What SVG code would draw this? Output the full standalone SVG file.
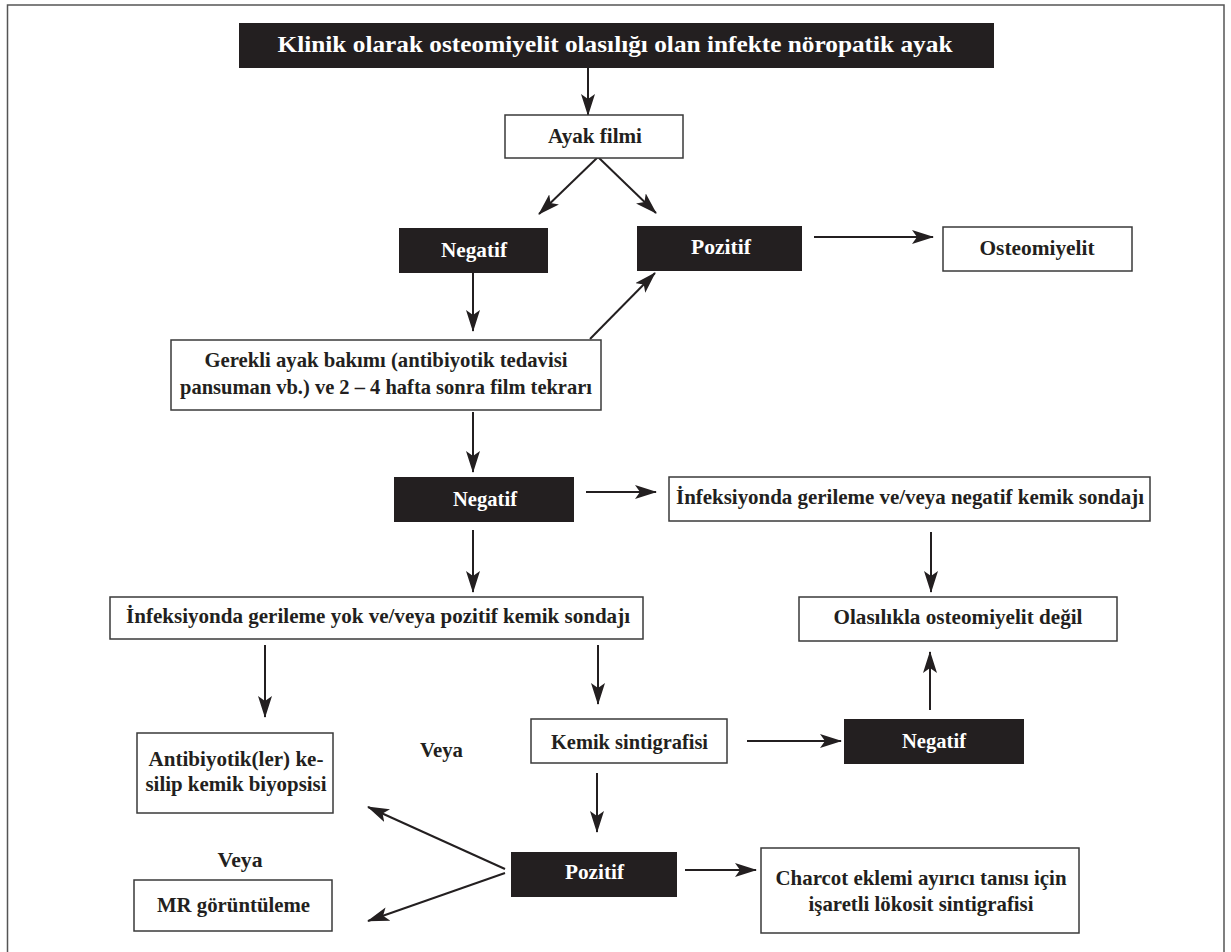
<svg xmlns="http://www.w3.org/2000/svg" width="1231" height="952" viewBox="0 0 1231 952">
<style>
  .box { fill: #ffffff; stroke: #3a3a3a; stroke-width: 1.5; }
  .dark { fill: #231f20; stroke: none; }
  .t { font-family: "Liberation Serif", "DejaVu Serif", serif; font-weight: bold; font-size: 21.5px; fill: #231f20; text-anchor: middle; }
  .w { fill: #ffffff; }
  .c { stroke: #231f20; stroke-width: 2; fill: none; marker-end: url(#ah); }
</style>
<defs>
  <marker id="ah" markerUnits="userSpaceOnUse" markerWidth="22" markerHeight="14" refX="21" refY="7" orient="auto">
    <path d="M0,0 L22,7 L0,14 L5,7 Z" fill="#231f20"/>
  </marker>
</defs>
<rect x="0" y="0" width="1231" height="952" fill="#ffffff"/>
<rect x="7.5" y="5" width="1216.5" height="960" fill="none" stroke="#555" stroke-width="1.5"/>

<g id="connectors">
  <line class="c" x1="588" y1="68" x2="588" y2="115"/>
  <line class="c" x1="598" y1="157" x2="539" y2="214"/>
  <line class="c" x1="598" y1="157" x2="656" y2="213"/>
  <line class="c" x1="814" y1="237" x2="933" y2="237"/>
  <line class="c" x1="473" y1="273" x2="473" y2="331"/>
  <line class="c" x1="590" y1="339" x2="655" y2="273"/>
  <line class="c" x1="473" y1="412" x2="473" y2="472"/>
  <line class="c" x1="586" y1="492" x2="656" y2="492"/>
  <line class="c" x1="931" y1="532" x2="931" y2="592"/>
  <line class="c" x1="473" y1="530" x2="473" y2="592"/>
  <line class="c" x1="265" y1="645" x2="265" y2="717"/>
  <line class="c" x1="598" y1="645" x2="598" y2="704"/>
  <line class="c" x1="747" y1="741" x2="841" y2="741"/>
  <line class="c" x1="930" y1="710" x2="930" y2="652"/>
  <line class="c" x1="597" y1="773" x2="597" y2="832"/>
  <line class="c" x1="685" y1="870" x2="756" y2="870"/>
  <line class="c" x1="505" y1="869" x2="368" y2="807"/>
  <line class="c" x1="505" y1="873" x2="368" y2="921"/>
</g>

<g id="n-start">
  <rect class="dark" x="239" y="23" width="755" height="45"/>
  <text class="t w" x="615" y="52" style="font-size:22.5px" textLength="675" lengthAdjust="spacingAndGlyphs">Klinik olarak osteomiyelit olasılığı olan infekte nöropatik ayak</text>
</g>
<g id="n-ayak-filmi">
  <rect class="box" x="505" y="115" width="178" height="43"/>
  <text class="t" x="595" y="143" textLength="94" lengthAdjust="spacingAndGlyphs">Ayak filmi</text>
</g>
<g id="n-negatif-1">
  <rect class="dark" x="399" y="228" width="149" height="45"/>
  <text class="t w" x="474" y="257" textLength="66" lengthAdjust="spacingAndGlyphs">Negatif</text>
</g>
<g id="n-pozitif-1">
  <rect class="dark" x="637" y="226" width="165" height="45"/>
  <text class="t w" x="721" y="254" textLength="60" lengthAdjust="spacingAndGlyphs">Pozitif</text>
</g>
<g id="n-osteomiyelit">
  <rect class="box" x="943" y="227" width="189" height="44"/>
  <text class="t" x="1037" y="255" textLength="115" lengthAdjust="spacingAndGlyphs">Osteomiyelit</text>
</g>
<g id="n-gerekli">
  <rect class="box" x="171" y="340" width="430" height="70"/>
  <text class="t" x="386" y="367" textLength="363" lengthAdjust="spacingAndGlyphs">Gerekli ayak bakımı (antibiyotik tedavisi</text>
  <text class="t" x="386" y="394" textLength="412" lengthAdjust="spacingAndGlyphs">pansuman vb.) ve 2 – 4 hafta sonra film tekrarı</text>
</g>
<g id="n-negatif-2">
  <rect class="dark" x="394" y="477" width="180" height="45"/>
  <text class="t w" x="485" y="506" textLength="64" lengthAdjust="spacingAndGlyphs">Negatif</text>
</g>
<g id="n-gerileme-var">
  <rect class="box" x="669" y="477" width="481" height="44"/>
  <text class="t" x="910" y="504" textLength="468" lengthAdjust="spacingAndGlyphs">İnfeksiyonda gerileme ve/veya negatif kemik sondajı</text>
</g>
<g id="n-olasilikla">
  <rect class="box" x="799" y="597" width="318" height="44"/>
  <text class="t" x="958" y="624" textLength="249" lengthAdjust="spacingAndGlyphs">Olasılıkla osteomiyelit değil</text>
</g>
<g id="n-gerileme-yok">
  <rect class="box" x="110" y="597" width="533" height="42"/>
  <text class="t" x="378" y="623" textLength="504" lengthAdjust="spacingAndGlyphs">İnfeksiyonda gerileme yok ve/veya pozitif kemik sondajı</text>
</g>
<g id="n-biyopsi">
  <rect class="box" x="137" y="733" width="196" height="80"/>
  <text class="t" x="236" y="766" textLength="175" lengthAdjust="spacingAndGlyphs">Antibiyotik(ler) ke-</text>
  <text class="t" x="236" y="791" textLength="181" lengthAdjust="spacingAndGlyphs">silip kemik biyopsisi</text>
</g>
<g id="l-veya-1">
  <text class="t" x="441.5" y="757" textLength="43" lengthAdjust="spacingAndGlyphs">Veya</text>
</g>
<g id="n-kemik-sintigrafisi">
  <rect class="box" x="531" y="719" width="196" height="44"/>
  <text class="t" x="629.5" y="749" textLength="157" lengthAdjust="spacingAndGlyphs">Kemik sintigrafisi</text>
</g>
<g id="n-negatif-3">
  <rect class="dark" x="844" y="719" width="180" height="45"/>
  <text class="t w" x="934" y="748" textLength="64" lengthAdjust="spacingAndGlyphs">Negatif</text>
</g>
<g id="n-pozitif-2">
  <rect class="dark" x="511" y="852" width="166" height="45"/>
  <text class="t w" x="594.5" y="879" textLength="59" lengthAdjust="spacingAndGlyphs">Pozitif</text>
</g>
<g id="n-charcot">
  <rect class="box" x="761" y="848" width="318" height="85"/>
  <text class="t" x="921" y="885" textLength="291" lengthAdjust="spacingAndGlyphs">Charcot eklemi ayırıcı tanısı için</text>
  <text class="t" x="921" y="911" textLength="225" lengthAdjust="spacingAndGlyphs">işaretli lökosit sintigrafisi</text>
</g>
<g id="l-veya-2">
  <text class="t" x="240" y="867" textLength="45" lengthAdjust="spacingAndGlyphs">Veya</text>
</g>
<g id="n-mr">
  <rect class="box" x="134" y="880" width="198" height="51"/>
  <text class="t" x="233.5" y="912" textLength="153" lengthAdjust="spacingAndGlyphs">MR görüntüleme</text>
</g>
</svg>
